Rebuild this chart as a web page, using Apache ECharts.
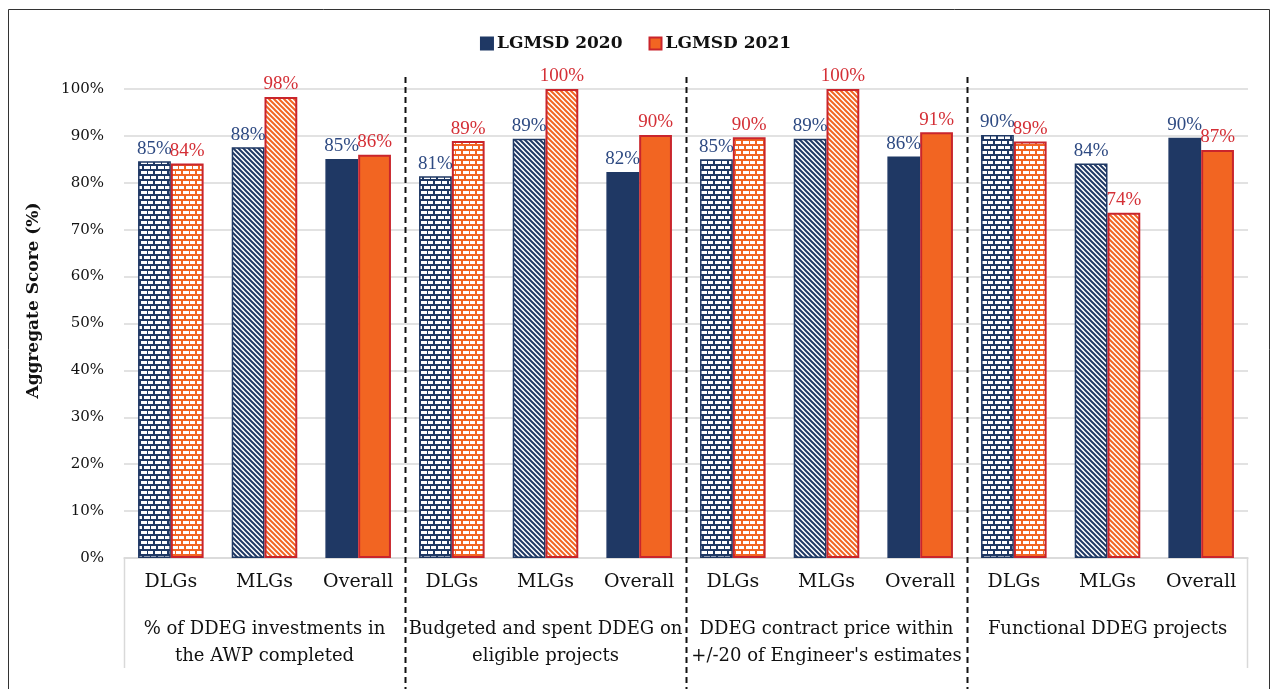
<!DOCTYPE html>
<html>
<head>
<meta charset="utf-8">
<script src="https://cdn.jsdelivr.net/npm/echarts@6/dist/echarts.min.js"></script>
<style>
html,body{margin:0;padding:0;background:#fff;}
#chart{width:1271px;height:689px;}
</style>
</head>
<body>
<div id="chart"></div>
<script>
// ---- data ----
const categories = ['DLGs','MLGs','Overall','DLGs','MLGs','Overall','DLGs','MLGs','Overall','DLGs','MLGs','Overall'];
const groupLabels = [
  '% of DDEG investments in\nthe AWP completed',
  'Budgeted and spent DDEG on\neligible projects',
  'DDEG contract price within\n+/-20 of Engineer\'s estimates',
  'Functional DDEG projects'
];
const lgmsd2020 = [84.6, 87.6, 85.1, 81.4, 89.4, 82.3, 85.0, 89.4, 85.6, 90.2, 84.1, 89.6];
const lgmsd2021 = [84.1, 98.3, 86.0, 88.9, 100, 90.2, 89.7, 100, 90.8, 88.8, 73.6, 87.0];
const yTicks = [0,10,20,30,40,50,60,70,80,90,100];

// ---- styles ----
const NAVY = '#1F3864';
const ORANGE = '#F26522';
const RED = '#C9252C';
const NAVY_LABEL = '#2E4A82';
const RED_LABEL = '#D42F36';
const SERIF = '"DejaVu Serif", serif';
const LSERIF = '"Liberation Serif", serif';

function brick(color){
  const c = document.createElement('canvas');
  c.width = 14; c.height = 10;
  const g = c.getContext('2d');
  g.fillStyle = color; g.fillRect(0,0,14,10);
  g.fillStyle = '#fff';
  g.fillRect(1,1,6,3); g.fillRect(8,1,5,3);
  g.fillRect(0,6,2,3); g.fillRect(4,6,6,3); g.fillRect(11,6,3,3);
  return c;
}
function stripe(color){
  const s = 5;
  const c = document.createElement('canvas');
  c.width = s; c.height = s;
  const g = c.getContext('2d');
  g.fillStyle = '#fff'; g.fillRect(0,0,s,s);
  g.strokeStyle = color; g.lineWidth = 2;
  g.beginPath();
  g.moveTo(-s,0); g.lineTo(s,2*s);
  g.moveTo(-s,-s); g.lineTo(2*s,2*s);
  g.moveTo(0,-s); g.lineTo(2*s,s);
  g.stroke();
  return c;
}
function fillFor(idx, base){
  const k = idx % 3;
  if (k === 0) return {image: brick(base), repeat: 'repeat'};
  if (k === 1) return {image: stripe(base), repeat: 'repeat'};
  return base;
}

const chart = echarts.init(document.getElementById('chart'));

const data2020 = lgmsd2020.map((v,i)=>({value:v, itemStyle:{color: fillFor(i, NAVY)}}));
const data2021 = lgmsd2021.map((v,i)=>({value:v, itemStyle:{color: fillFor(i, ORANGE)}}));

const labelFmt = p => Math.round(p.value) + '%';

const option = {
  animation: false,
  backgroundColor: '#fff',
  legend: {
    top: 30, left: 'center',
    icon: 'rect',
    itemWidth: 12, itemHeight: 12, itemGap: 26,
    textStyle: {fontFamily: SERIF, fontWeight: 'bold', fontSize: 17, color: '#111', padding: [0,0,0,-1]},
    data: ['LGMSD 2020','LGMSD 2021']
  },
  grid: {left: 124, right: 23, top: 89, bottom: 131, containLabel: false},
  xAxis: [
    {
      type: 'category', data: categories, position: 'bottom',
      axisLine: {show: true, lineStyle: {color: '#D9D9D9', width: 1.5}},
      axisTick: {show: false},
      axisLabel: {interval: 0, margin: 15, fontFamily: SERIF, fontSize: 19, color: '#111'}
    },
    {
      type: 'category', data: groupLabels, position: 'bottom', gridIndex: 0,
      axisLine: {show: false}, axisTick: {show: false},
      axisLabel: {interval: 0, margin: 58, fontFamily: SERIF, fontSize: 18, lineHeight: 27, color: '#111', verticalAlign: 'top'}
    }
  ],
  yAxis: {
    type: 'value', min: 0, max: 100, interval: 10,
    name: 'Aggregate Score (%)', nameLocation: 'middle', nameGap: 82, nameRotate: 90,
    nameTextStyle: {fontFamily: SERIF, fontWeight: 'bold', fontSize: 17, color: '#111', padding: [0,0,0,46]},
    axisLine: {show: false}, axisTick: {show: false},
    axisLabel: {margin: 20, fontFamily: SERIF, fontSize: 15, color: '#111',
      formatter: v => yTicks.indexOf(v) >= 0 ? v + '%' : ''},
    splitLine: {lineStyle: {color: '#D9D9D9', width: 1.5}}
  },
  series: [
    {
      name: 'LGMSD 2020', type: 'bar', xAxisIndex: 0, data: data2020,
      barGap: '0%', barCategoryGap: '30%',
      itemStyle: {color: NAVY, borderColor: NAVY, borderWidth: 1.5},
      label: {show: true, position: 'top', distance: 3, formatter: labelFmt,
        fontFamily: LSERIF, fontSize: 19, color: NAVY_LABEL}
    },
    {
      name: 'LGMSD 2021', type: 'bar', xAxisIndex: 0, data: data2021,
      itemStyle: {color: ORANGE, borderColor: RED, borderWidth: 2},
      label: {show: true, position: 'top', distance: 3, formatter: labelFmt,
        fontFamily: LSERIF, fontSize: 19, color: RED_LABEL}
    }
  ]
};
chart.setOption(option);

// separators and frame, positioned from the chart's own scales
function px(i){ return chart.convertToPixel({xAxisIndex:0}, i); }
const step = px(1) - px(0);
const yTop = chart.convertToPixel({yAxisIndex:0}, 100);
const yBase = chart.convertToPixel({yAxisIndex:0}, 0);
const graphics = [];
[3,6,9].forEach(i=>{
  const x = Math.round((px(i-1)+px(i))/2) + 0.5;
  graphics.push({type:'line', z: 50, shape:{x1:x, y1:yTop-12, x2:x, y2:700},
    style:{stroke:'#111', lineWidth:2, lineDash:[6,4]}});
});
const xl = Math.round(px(0) - step/2) + 0.5;
const xr = Math.round(px(11) + step/2) - 0.5;
graphics.push({type:'line', shape:{x1:xl, y1:yBase, x2:xl, y2:yBase+110}, style:{stroke:'#D9D9D9', lineWidth:1.5}});
graphics.push({type:'line', shape:{x1:xr, y1:yBase, x2:xr, y2:yBase+110}, style:{stroke:'#D9D9D9', lineWidth:1.5}});
graphics.push({type:'rect', shape:{x:8.5, y:9.5, width:1261, height:700}, style:{fill:'none', stroke:'#333', lineWidth:1}});
chart.setOption({graphic: graphics});
</script>
</body>
</html>
